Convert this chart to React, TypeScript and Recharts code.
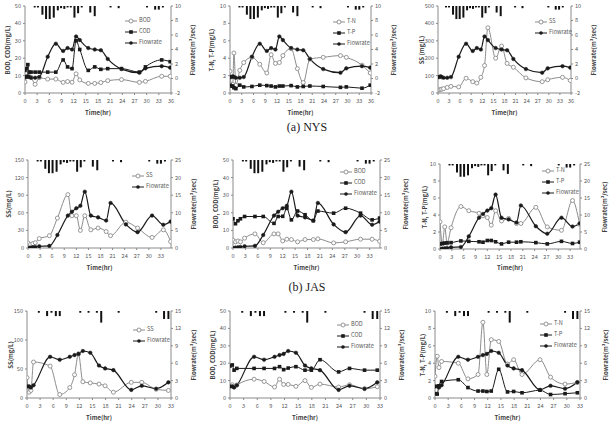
import { ComposedChart, Line, Bar, XAxis, YAxis } from 'recharts';

// (a) NYS sampling times (hr) and measurements
const nysTime = [0, 0.3, 0.7, 1, 1.5, 2.5, 3.5, 5.6, 7.6, 9.4, 10.5, 11.6, 12.6, 13.5, 15.6, 17.2, 18.7, 20.4, 23.8, 28.2, 29.7, 33.7, 35.8];
const nysFlow = [0.2, 0.2, 0.3, 0.2, 0.1, 0.1, 0.2, 3.0, 4.8, 3.8, 4.2, 4.0, 5.8, 5.3, 4.2, 4.0, 3.9, 2.7, 1.3, 0.8, 1.4, 1.7, 1.5];
const nysBod = [6.3, 9.5, 9.5, 9.5, 9.0, 5.0, 8.8, 8.0, 8.0, 6.1, 6.6, 6.2, 11.0, 7.5, 5.5, 5.5, 6.0, 7.1, 7.7, 6.1, 6.7, 9.6, 9.6];
const nysCod = [13, 14, 16.3, 12, 12, 12, 12, 12, 12, 19, 15, 14, 30, 25, 13, 15, 13.6, 14, 14, 12, 15, 19, 18];
const nysTn = [2.5, 1.0, 1.0, 4.6, 0.9, 2.6, 3.5, 4.1, 3.3, 2.3, 4.4, 3.4, 3.5, 4.3, 5.1, 2.8, 1.2, 3.9, 4.1, 4.3, 4.1, 3.2, 2.3];
const nysTp = [0.9, 0.8, 0.8, 0.6, 0.5, 0.9, 0.7, 0.75, 0.9, 0.85, 0.8, 0.7, 0.8, 0.8, 0.85, 0.7, 0.75, 0.8, 0.75, 0.65, 0.7, 0.55, 0.9];
const nysSs = [15, 18, 20, 22, 25, 32, 38, 35, 85, 65, 57, 90, 158, 375, 200, 270, 170, 148, 87, 65, 76, 90, 72];

// (b) JAS
const jasTime = [0, 0.6, 1.2, 1.8, 2.8, 5.3, 7.3, 9.9, 10.9, 12.0, 13.0, 14.1, 15.6, 17.4, 19.4, 20.5, 24.3, 27.2, 30.8, 33.6, 35.4];
const jasFlow = [0, 0.1, 0.2, 0.3, 0.5, 0.6, 3.7, 9.2, 10.3, 11.3, 12, 16, 9.2, 8.7, 7.8, 12.8, 6.7, 4.5, 9.2, 6.6, 7.5];
const jasSs = [8.5, 6, 7.5, 9, 16, 21, 51, 91, 55, 55, 30, 55, 31, 34, 28, 21, 44, 34, 18, 31, 11];
const jasBod = [4.4, 3.5, 4, 3.5, 5.6, 8, 3, 8, 8, 4, 5, 4.8, 3.5, 4.8, 4.8, 5.2, 2.9, 3.5, 5, 5, 3.8];
const jasCod = [16.6, 13.8, 15.5, 16.6, 17.9, 17.9, 17.9, 14, 17.9, 18, 22.5, 16, 21, 18.9, 15.5, 21, 19.8, 22.6, 19.8, 16, 17];
const jasTn = [3.2, 0.6, 2.6, 0.7, 2.5, 5.0, 4.5, 4.2, 3.9, 3.7, 2.8, 4.5, 3.3, 3.6, 3.0, 3.0, 4.9, 2.6, 2.2, 5.7, 2.9];
const jasTp = [0.6, 0.65, 0.7, 0.72, 0.75, 0.95, 0.9, 0.85, 0.8, 1.0, 1.0, 0.85, 0.6, 0.8, 0.8, 0.85, 0.75, 0.6, 0.9, 0.65, 0.8];

// third event (bottom row)
const r3Time = [0, 0.5, 0.9, 1.5, 5.3, 7.5, 9.8, 10.9, 11.8, 12.8, 14.5, 16.5, 17.9, 19.8, 23.9, 26.3, 29.6, 32.4];
const r3Flow = [2.0, 2.0, 1.8, 2.2, 7.1, 6.6, 7.1, 7.4, 7.6, 8.1, 7.8, 5.6, 5.1, 4.8, 1.4, 2.1, 1.6, 2.7];
const r3Ss = [35, 10, 13, 62, 55, 6, 18, 40, 76, 28, 26, 24, 21, 10, 27, 27, 15, 13];
const r3Bod = [7, 7.6, 6.5, 7.5, 10.8, 9.5, 6.3, 10.8, 7.8, 7.8, 6.7, 10, 6.1, 8, 6.3, 7.6, 5.3, 6.5];
const r3Cod = [18.4, 19, 16, 17, 17, 17, 17, 18, 16.3, 17.2, 18, 16, 16, 22, 15, 17, 16, 16];
const r3Tn = [2.5, 4.8, 3.5, 4.2, 4.0, 2.2, 2.7, 8.7, 2.7, 6.7, 6.5, 3.9, 4.4, 2.7, 4.4, 2.4, 1.6, 1.8];
const r3Tp = [0.5, 0.45, 1.4, 1.9, 2.1, 1.2, 0.8, 0.8, 0.75, 0.8, 3.3, 0.7, 0.75, 0.6, 0.9, 0.4, 0.5, 0.6];

// rainfall (mm) hanging from the top of each plot
const rainTimeAB = [2.3, 3.1, 4.2, 5.1, 6.0, 7.0, 8.0, 8.8, 9.6, 10.4, 11.2, 12.1, 13.0, 13.9, 16.0, 17.1, 21.0, 23.0, 30.0, 32.0, 32.9, 33.9];
const rainAB = [1, 1, 6, 9, 9, 8, 3, 1.5, 2, 1, 1, 8, 5, 1, 4.5, 7, 1, 1.5, 1, 2.5, 2.5, 1];
const rainTimeC = [2.7, 4.6, 5.6, 6.6, 7.5, 12.2, 14.1, 16.0, 17.0, 21.0, 29.6, 31.4, 32.4];
const rainC = [1.2, 3.5, 1.2, 3.5, 3.5, 1.2, 1.2, 1.2, 8, 1.2, 1.2, 5.5, 5.5];

// axis ticks
const hourTicks36 = [0, 3, 6, 9, 12, 15, 18, 21, 24, 27, 30, 33, 36];
const hourTicks33 = [0, 3, 6, 9, 12, 15, 18, 21, 24, 27, 30, 33];
const ticks50 = [0, 10, 20, 30, 40, 50];
const ticks10 = [0, 2, 4, 6, 8, 10];
const ticks500 = [0, 100, 200, 300, 400, 500];
const ticks150a = [0, 30, 60, 90, 120, 150];
const ticks150b = [0, 50, 100, 150];
const flowTicksA = [-2, 0, 2, 4, 6, 8, 10];
const flowTicksB = [0, 5, 10, 15, 20, 25];
const flowTicksC = [0, 3, 6, 9, 12, 15];

const FONT = '"Noto Sans CJK KR", "Noto Sans", sans-serif';
const AXIS = '#8a8a8a';
const TICK = '#595959';
const GRAY = '#8c8c8c';
const BLACK = '#1a1a1a';

type Row = { t: number; [k: string]: number | undefined };
type Marker = 'open' | 'square' | 'dot';
interface SeriesDef {
  key: string;
  name: string;
  axis: 'left' | 'right';
  marker: Marker;
}

function toRows(times: number[], series: Record<string, number[]>): Row[] {
  return times.map((t, i) => {
    const row: Row = { t };
    Object.keys(series).forEach((k) => {
      row[k] = series[k][i];
    });
    return row;
  });
}

function markerDot(marker: Marker): any {
  if (marker === 'open') return { r: 2, fill: '#fff', stroke: GRAY, strokeWidth: 0.9 };
  if (marker === 'dot') return { r: 1.8, fill: BLACK, stroke: BLACK, strokeWidth: 0.5 };
  return (p: any) => {
    const key = `sq-${p.index}`;
    if (typeof p.cx !== 'number' || typeof p.cy !== 'number' || Number.isNaN(p.cy)) return <g key={key} />;
    return <rect key={key} x={p.cx - 1.8} y={p.cy - 1.8} width={3.6} height={3.6} fill={BLACK} />;
  };
}

function LegendIcon({ marker }: { marker: Marker }) {
  const stroke = marker === 'open' ? GRAY : BLACK;
  return (
    <svg width={12} height={10} style={{ display: 'block' }}>
      <line x1={0} x2={12} y1={5} y2={5} stroke={stroke} strokeWidth={1} />
      {marker === 'open' && <circle cx={6} cy={5} r={2} fill="#fff" stroke={GRAY} strokeWidth={0.9} />}
      {marker === 'square' && <rect x={4.2} y={3.2} width={3.6} height={3.6} fill={BLACK} />}
      {marker === 'dot' && <circle cx={6} cy={5} r={1.8} fill={BLACK} />}
    </svg>
  );
}

const BOD_COD: SeriesDef[] = [
  { key: 'bod', name: 'BOD', axis: 'left', marker: 'open' },
  { key: 'cod', name: 'COD', axis: 'left', marker: 'square' },
  { key: 'flow', name: 'Flowrate', axis: 'right', marker: 'dot' },
];
const TN_TP: SeriesDef[] = [
  { key: 'tn', name: 'T-N', axis: 'left', marker: 'open' },
  { key: 'tp', name: 'T-P', axis: 'left', marker: 'square' },
  { key: 'flow', name: 'Flowrate', axis: 'right', marker: 'dot' },
];
const SS_ONLY: SeriesDef[] = [
  { key: 'ss', name: 'SS', axis: 'left', marker: 'open' },
  { key: 'flow', name: 'Flowrate', axis: 'right', marker: 'dot' },
];

interface PanelDef {
  id: string;
  plot: [number, number, number, number]; // left, top, right, bottom in page px
  rows: Row[];
  rain: Row[];
  xMax: number;
  xTicks: number[];
  leftDomain: [number, number];
  leftTicks: number[];
  leftTitle: string;
  leftTitleX: number;
  rightDomain: [number, number];
  rightTicks: number[];
  rightTitleX: number;
  series: SeriesDef[];
  legendAt: [number, number];
  timeY: number;
}

const nysRows = toRows(nysTime, { flow: nysFlow, bod: nysBod, cod: nysCod, tn: nysTn, tp: nysTp, ss: nysSs });
const jasRows = toRows(jasTime, { flow: jasFlow, bod: jasBod, cod: jasCod, tn: jasTn, tp: jasTp, ss: jasSs });
const r3Rows = toRows(r3Time, { flow: r3Flow, bod: r3Bod, cod: r3Cod, tn: r3Tn, tp: r3Tp, ss: r3Ss });
const rainRowsAB = toRows(rainTimeAB, { rain: rainAB });
const rainRowsC = toRows(rainTimeC, { rain: rainC });

const panels: PanelDef[] = [
  { id: 'a1', plot: [25, 6, 171, 93], rows: nysRows, rain: rainRowsAB, xMax: 36, xTicks: hourTicks36, leftDomain: [0, 50], leftTicks: ticks50, leftTitle: 'BOD, COD(mg/L)', leftTitleX: 8, rightDomain: [-2, 10], rightTicks: flowTicksA, rightTitleX: 193, series: BOD_COD, legendAt: [125, 20], timeY: 113 },
  { id: 'a2', plot: [230, 6, 371, 93], rows: nysRows, rain: rainRowsAB, xMax: 36, xTicks: hourTicks36, leftDomain: [0, 10], leftTicks: ticks10, leftTitle: 'T-N, T-P(mg/L)', leftTitleX: 212, rightDomain: [-2, 10], rightTicks: flowTicksA, rightTitleX: 394, series: TN_TP, legendAt: [333, 21.5], timeY: 113 },
  { id: 'a3', plot: [438, 6, 571, 93], rows: nysRows, rain: rainRowsAB, xMax: 36, xTicks: hourTicks36, leftDomain: [0, 500], leftTicks: ticks500, leftTitle: 'SS (mg/L)', leftTitleX: 422, rightDomain: [-2, 10], rightTicks: flowTicksA, rightTitleX: 594, series: SS_ONLY, legendAt: [535, 21.5], timeY: 113 },
  { id: 'b1', plot: [28, 160, 171, 248], rows: jasRows, rain: rainRowsAB, xMax: 35.5, xTicks: hourTicks33, leftDomain: [0, 150], leftTicks: ticks150a, leftTitle: 'SS(mg/L)', leftTitleX: 9, rightDomain: [0, 25], rightTicks: flowTicksB, rightTitleX: 194, series: SS_ONLY, legendAt: [132, 175], timeY: 268 },
  { id: 'b2', plot: [233, 160, 380, 248], rows: jasRows, rain: rainRowsAB, xMax: 35.5, xTicks: hourTicks33, leftDomain: [0, 50], leftTicks: ticks50, leftTitle: 'BOD, COD(mg/L)', leftTitleX: 216, rightDomain: [0, 25], rightTicks: flowTicksB, rightTitleX: 406, series: BOD_COD, legendAt: [340, 171], timeY: 268 },
  { id: 'b3', plot: [440, 164, 580, 249], rows: jasRows, rain: rainRowsAB, xMax: 35.5, xTicks: hourTicks33, leftDomain: [0, 10], leftTicks: ticks10, leftTitle: 'T-N, T-P(mg/L)', leftTitleX: 425, rightDomain: [0, 25], rightTicks: flowTicksB, rightTitleX: 605, series: TN_TP, legendAt: [542, 170], timeY: 268 },
  { id: 'c1', plot: [27, 311, 171, 398], rows: r3Rows, rain: rainRowsC, xMax: 33, xTicks: hourTicks33, leftDomain: [0, 150], leftTicks: ticks150b, leftTitle: 'SS(mg/L)', leftTitleX: 11, rightDomain: [0, 15], rightTicks: flowTicksC, rightTitleX: 194, series: SS_ONLY, legendAt: [133, 329], timeY: 418 },
  { id: 'c2', plot: [230, 311, 380, 398], rows: r3Rows, rain: rainRowsC, xMax: 33, xTicks: hourTicks33, leftDomain: [0, 50], leftTicks: ticks50, leftTitle: 'BOD, COD(mg/L)', leftTitleX: 213, rightDomain: [0, 15], rightTicks: flowTicksC, rightTitleX: 402, series: BOD_COD, legendAt: [337, 324], timeY: 418 },
  { id: 'c3', plot: [435, 311, 580, 398], rows: r3Rows, rain: rainRowsC, xMax: 33, xTicks: hourTicks33, leftDomain: [0, 10], leftTicks: ticks10, leftTitle: 'T-N, T-P(mg/L)', leftTitleX: 423, rightDomain: [0, 15], rightTicks: flowTicksC, rightTitleX: 606, series: TN_TP, legendAt: [540, 323], timeY: 418 },
];

const tickStyle = { fontSize: 5.6, fill: TICK, fontFamily: FONT };
const titleStyle = { fontSize: 6, fontWeight: 700, color: '#404040', fontFamily: FONT, whiteSpace: 'nowrap' as const, lineHeight: 1 };

function VerticalTitle({ x, y, text }: { x: number; y: number; text: string }) {
  return (
    <div style={{ ...titleStyle, position: 'absolute', left: x, top: y, transform: 'translate(-50%, -50%) rotate(-90deg)' }}>
      {text}
    </div>
  );
}

const YW = 20;
const XH = 14;
const TOP = 8;

function Panel({ p }: { p: PanelDef }) {
  const [l, t, r, b] = p.plot;
  const x0 = l - YW - 2;
  const y0 = t - TOP;
  const width = r - l + 2 * (YW + 2);
  const height = b - t + TOP + XH + 2;
  const midY = (t + b) / 2;

  return (
    <>
      {/* rainfall hyetograph, hanging from the top edge of the plot */}
      <div style={{ position: 'absolute', left: x0, top: y0 }}>
        <ComposedChart width={width} height={height} data={p.rain} barSize={2} margin={{ top: TOP, left: 2 + YW, right: 2 + YW, bottom: 2 + XH }}>
          <XAxis dataKey="t" type="number" domain={[0, p.xMax]} allowDataOverflow hide />
          <YAxis yAxisId="rain" hide reversed domain={[0, 60]} allowDataOverflow />
          <Bar yAxisId="rain" dataKey="rain" barSize={2} maxBarSize={2} fill="#111" isAnimationActive={false} />
        </ComposedChart>
      </div>
      <div style={{ position: 'absolute', left: x0, top: y0 }}>
        <ComposedChart width={width} height={height} data={p.rows} margin={{ top: TOP, left: 2, right: 2, bottom: 2 }}>
          <XAxis
            dataKey="t"
            type="number"
            domain={[0, p.xMax]}
            ticks={p.xTicks}
            interval={0}
            allowDataOverflow
            height={XH}
            tickSize={2}
            tickMargin={4}
            tick={tickStyle}
            axisLine={{ stroke: AXIS }}
            tickLine={{ stroke: AXIS }}
          />
          <YAxis
            yAxisId="left"
            width={YW}
            domain={p.leftDomain}
            ticks={p.leftTicks}
            interval={0}
            allowDataOverflow
            tickSize={2}
            tickMargin={2}
            tick={tickStyle}
            axisLine={{ stroke: AXIS }}
            tickLine={{ stroke: AXIS }}
          />
          <YAxis
            yAxisId="right"
            orientation="right"
            width={YW}
            domain={p.rightDomain}
            ticks={p.rightTicks}
            interval={0}
            allowDataOverflow
            tickSize={2}
            tickMargin={2}
            tick={tickStyle}
            axisLine={{ stroke: AXIS }}
            tickLine={{ stroke: AXIS }}
          />
          {p.series.map((s) => (
            <Line
              key={s.key}
              yAxisId={s.axis}
              dataKey={s.key}
              name={s.name}
              type="monotone"
              stroke={s.marker === 'open' ? GRAY : BLACK}
              strokeWidth={s.marker === 'dot' ? 1.2 : 1}
              dot={markerDot(s.marker)}
              activeDot={false}
              isAnimationActive={false}
            />
          ))}
        </ComposedChart>
      </div>
      <VerticalTitle x={p.leftTitleX} y={midY} text={p.leftTitle} />
      <VerticalTitle x={p.rightTitleX} y={midY} text="Flowrate(m³/sec)" />
      <div style={{ ...titleStyle, position: 'absolute', left: (l + r) / 2, top: p.timeY, transform: 'translate(-50%, -50%)' }}>
        Time(hr)
      </div>
      <div style={{ position: 'absolute', left: p.legendAt[0], top: p.legendAt[1] - 5 }}>
        {p.series.map((s) => (
          <div key={s.key} style={{ display: 'flex', alignItems: 'center', height: 11 }}>
            <LegendIcon marker={s.marker} />
            <span style={{ fontSize: 5.6, color: TICK, fontFamily: FONT, marginLeft: 2, lineHeight: 1 }}>{s.name}</span>
          </div>
        ))}
      </div>
    </>
  );
}

const captionStyle = {
  position: 'absolute' as const,
  fontFamily: '"Liberation Serif", "DejaVu Serif", serif',
  fontSize: 12,
  color: '#222',
  transform: 'translate(-50%, -50%)',
  whiteSpace: 'nowrap' as const,
};

export default function App() {
  return (
    <div style={{ position: 'absolute', left: 0, top: 0, width: 612, height: 434, background: '#fff', overflow: 'hidden' }}>
      {panels.map((p) => (
        <Panel key={p.id} p={p} />
      ))}
      <div style={{ ...captionStyle, left: 307, top: 127 }}>(a) NYS</div>
      <div style={{ ...captionStyle, left: 307, top: 287 }}>(b) JAS</div>
    </div>
  );
}
